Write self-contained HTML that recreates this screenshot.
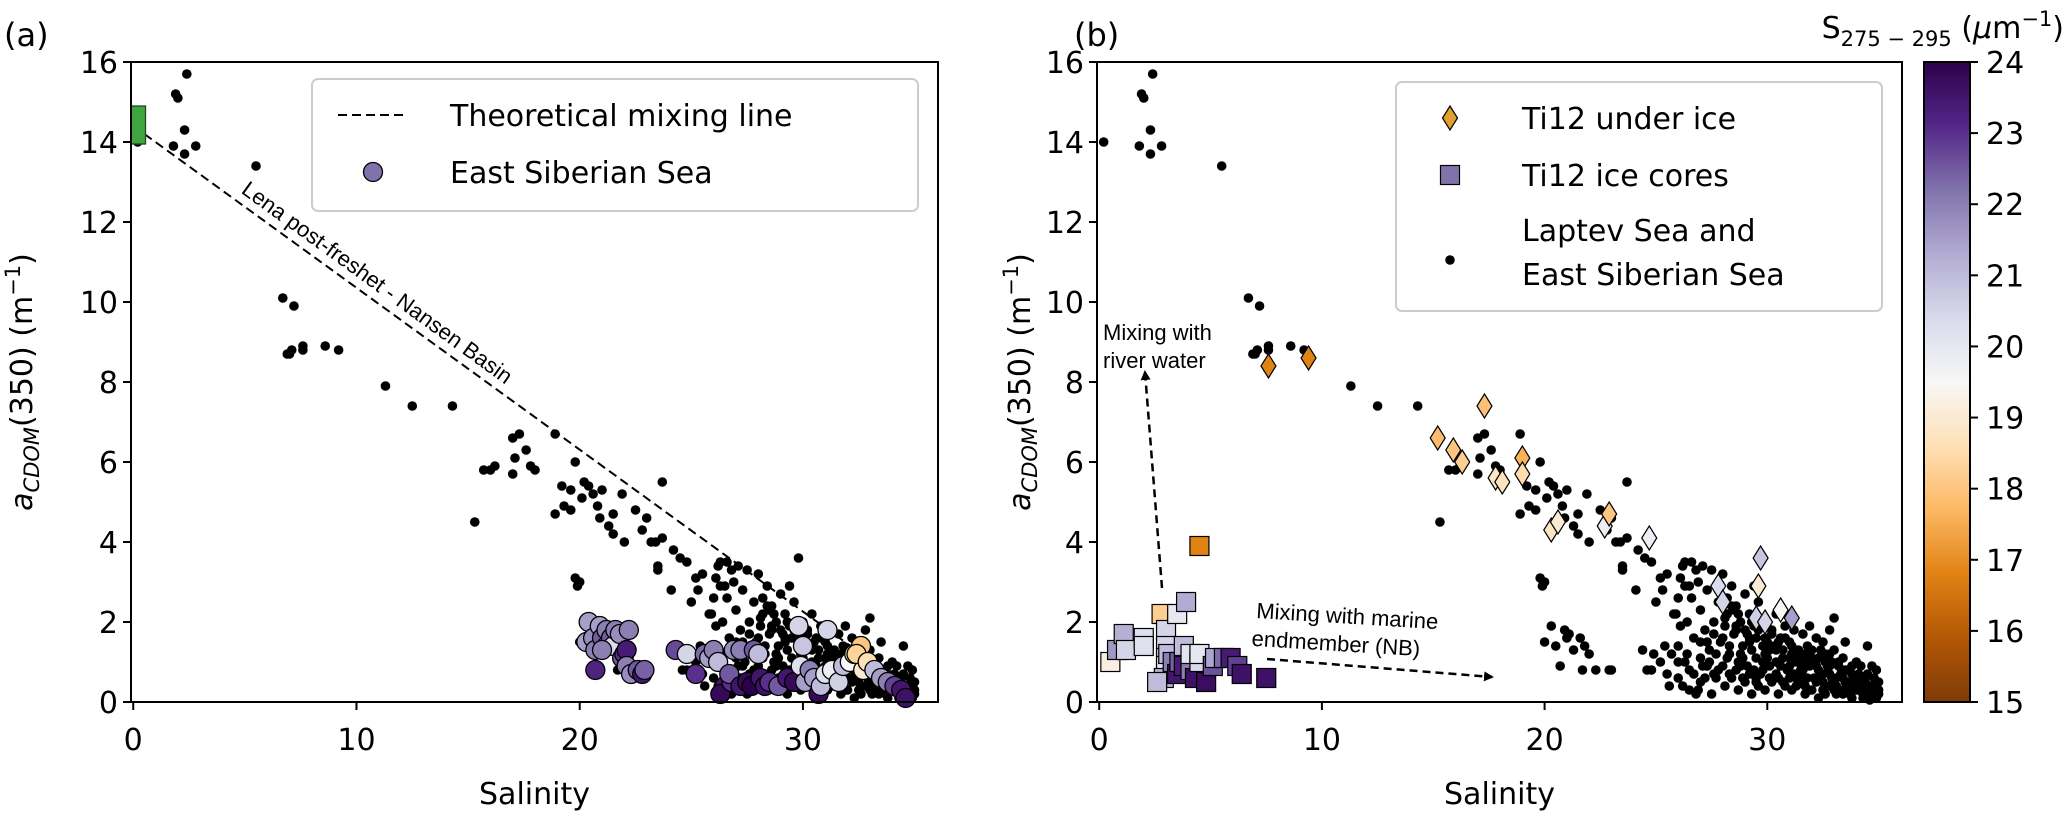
<!DOCTYPE html>
<html><head><meta charset="utf-8"><style>
html,body{margin:0;padding:0;background:#fff;}
svg{display:block;font-family:"DejaVu Sans","Liberation Sans",sans-serif;}
</style></head><body>
<svg id="fig" width="2067" height="814" viewBox="0 0 2067 814" xmlns="http://www.w3.org/2000/svg">
<defs>
<linearGradient id="cbgrad" x1="0" y1="1" x2="0" y2="0">
<stop offset="0" stop-color="#7f3b08"/><stop offset="0.1" stop-color="#b35806"/><stop offset="0.2" stop-color="#e08214"/><stop offset="0.3" stop-color="#fdb863"/><stop offset="0.4" stop-color="#fee0b6"/><stop offset="0.5" stop-color="#f7f7f7"/><stop offset="0.6" stop-color="#d8daeb"/><stop offset="0.7" stop-color="#b2abd2"/><stop offset="0.8" stop-color="#8073ac"/><stop offset="0.9" stop-color="#542788"/><stop offset="1" stop-color="#2d004b"/>
</linearGradient>
<marker id="arr" markerWidth="10" markerHeight="10" refX="8" refY="5" orient="auto" markerUnits="userSpaceOnUse"><path d="M0,0 L10,5 L0,10 z" fill="#000"/></marker>
</defs>
</svg>
<script>
// ---- data ----
const dotSal = [0.2,1.8,1.9,2.0,2.3,2.3,2.4,2.8,5.5,6.7,7.2,6.9,7.0,7.1,7.6,7.6,8.6,9.2,11.3,12.5,14.3,
15.3,15.7,16.0,16.2,17.0,17.1,17.0,17.3,17.6,17.8,18.0,18.9,18.9,19.2,19.3,19.6,19.8,19.6,20.1,20.2,20.4,20.6,20.8,20.9,21.0,21.3,21.5,21.9,21.5,22.0,22.5,22.8,23.0,23.2,23.4,23.5,23.5,23.7,23.7,24.1,24.2,24.5,24.8,25.0,25.2,25.5,25.9,26.0,26.3,26.5,26.8,
19.8,19.9,20.0,
20.0,20.3,20.5,20.7,20.9,21.0,21.3,21.6,21.8,22.0,21.7,22.3,22.9,23.0,21.1,
24.4,24.6,24.9,25.2,25.5,25.7,26.0,25.4,26.3,26.5,26.8,27.0,
26.2,26.6,26.9,27.1,27.3,27.5,27.8,28.0,28.2,28.4,28.6,28.8,29.0,29.2,29.4,29.6,29.8,30.0,30.2,30.4,30.6,30.8,31.0,31.2,31.4,31.6,31.8,32.0,32.2,32.4,32.6,32.8,33.0,33.2,33.4,33.6,33.8,34.0,34.2,34.4,34.6,34.7,34.8,34.9,35.0,34.5,
26.4,26.7,27.0,27.2,27.4,27.6,27.9,28.1,28.3,28.5,28.7,28.9,29.1,29.3,29.5,29.7,29.9,30.1,30.3,30.5,30.7,30.9,31.1,31.3,31.5,31.7,31.9,32.1,32.3,32.5,32.7,32.9,33.1,33.3,33.5,33.7,33.9,34.1,
26.2,26.5,26.9,27.2,27.5,27.8,28.1,28.4,28.7,29.0,29.3,29.6,29.9,30.2,30.5,30.8,31.1,31.4,31.7,32.0,32.3,32.6,33.0,33.4,33.8,34.3,34.6,
24.8,25.6,26.0,26.1,26.3,26.6,27.0,27.3,
25.3,25.8,26.1,28.5,29.1,29.4,30.0,32.8,33.5,34.2,31.9,
28.2,28.6,29.2,29.8,30.4,31.0,31.6,32.2,32.8,33.4,34.0,34.4,34.8,33.0,32.5,31.5,30.5,29.5,28.8,27.6,
27.3,27.7,28.0,28.3,28.6,28.9,29.2,29.5,29.8,30.1,30.4,30.7,31.0,31.3,31.6,31.9,32.2,32.5,32.8,33.1,33.4,33.7,34.0,34.3,34.6,
27.1,27.4,27.7,28.0,28.3,28.6,28.9,29.2,29.5,29.8,30.1,30.4,30.7,31.0,31.3,31.6,31.9,32.2,32.5,32.8,33.1,33.4,33.7,34.0,34.3,34.7,
28.1,28.4,28.7,29.0,29.3,29.6,29.9,30.2,30.5,30.8,31.1,31.4,31.7,32.0,32.3,32.6,32.9,33.2,33.5,33.8,34.1,34.4,
26.0,26.4,26.7,27.0,27.6,28.2,28.8,29.4,30.0,30.6,31.2,31.8,32.4,33.0,33.6,34.2,
34.8,34.9,35.0,34.9,34.7,34.5,35.0];
const dotA = [14.0,13.9,15.2,15.1,13.7,14.3,15.7,13.9,13.4,10.1,9.9,8.7,8.7,8.8,8.9,8.8,8.9,8.8,7.9,7.4,7.4,
4.5,5.8,5.8,5.9,6.6,6.1,5.7,6.7,6.3,5.9,5.8,6.7,4.7,5.4,4.9,5.3,6.0,4.8,5.1,5.5,5.4,5.2,4.9,4.6,5.3,4.4,4.7,5.2,4.2,4.0,4.8,4.3,4.6,4.0,4.0,3.4,3.3,4.1,5.5,2.8,3.8,3.6,3.5,2.5,3.1,3.2,2.2,2.6,3.5,2.9,3.3,
3.1,2.9,3.0,
1.5,1.9,1.4,0.9,1.8,1.6,1.3,1.6,1.4,1.2,0.8,0.8,0.8,0.8,1.7,
1.3,0.8,1.2,1.0,0.7,1.2,0.6,1.4,1.0,0.3,0.2,0.5,
3.4,3.5,3.0,3.4,2.8,3.3,2.5,3.2,2.6,2.9,2.4,2.0,2.7,2.2,1.9,2.5,3.6,2.0,1.8,2.2,1.6,1.9,1.5,1.8,1.2,1.7,1.4,1.1,1.6,1.3,1.0,1.2,2.1,0.9,1.1,0.8,0.7,1.0,0.6,0.5,0.4,0.2,0.3,0.1,0.2,1.4,
2.0,1.6,2.3,1.8,1.3,2.0,1.5,1.9,1.2,1.7,1.0,1.4,0.9,1.3,1.1,0.7,1.2,0.9,1.4,0.6,1.1,0.8,1.2,0.6,1.0,0.4,0.9,0.6,0.8,0.5,0.9,0.6,0.4,0.7,0.5,0.3,0.5,0.3,
0.4,0.8,0.3,0.6,0.2,0.8,0.4,0.6,0.3,0.5,0.2,0.4,0.3,0.5,0.2,0.4,0.3,0.5,0.2,0.3,0.1,0.2,0.3,0.2,0.1,0.1,0.05,
0.8,0.4,1.4,1.9,2.9,2.6,1.1,0.9,
2.8,2.2,3.1,2.3,1.7,2.9,1.5,1.8,1.5,0.9,1.9,
2.2,1.8,1.6,1.4,1.3,1.1,1.0,0.9,0.7,0.6,0.5,0.4,0.2,1.3,1.5,0.8,1.0,0.6,0.9,1.7,
1.5,1.2,1.6,1.4,1.9,1.1,1.5,1.6,1.0,1.3,1.0,1.3,0.9,1.0,0.8,1.1,0.9,0.7,0.9,0.6,0.8,0.5,0.6,0.4,0.3,
0.9,1.0,0.6,0.9,0.7,0.8,0.6,0.7,0.5,0.8,0.6,0.7,0.5,0.6,0.4,0.6,0.3,0.5,0.3,0.4,0.2,0.3,0.2,0.3,0.2,0.1,
2.1,2.4,2.2,1.8,2.0,1.8,1.6,1.7,1.5,1.6,1.4,1.3,1.2,1.3,1.1,1.2,1.0,1.0,0.8,0.9,0.7,0.6,
1.0,1.2,0.7,1.5,0.7,1.1,1.2,0.8,1.1,0.9,0.7,0.6,0.6,0.5,0.4,0.4,
0.6,0.4,0.5,0.8,0.9,0.7,0.3];

const essSal = [20.3,20.4,20.6,20.7,20.7,20.9,21.0,21.2,21.2,21.4,21.5,21.6,21.8,21.9,22.0,22.1,22.1,22.3,22.6,22.8,22.9,21.0,22.2,
24.3,24.8,25.2,25.6,25.8,26.0,26.2,26.5,26.3,26.8,26.7,26.9,27.2,27.5,27.2,27.8,27.7,28.1,28.3,28.5,28.9,29.3,29.6,29.8,30.0,29.9,30.1,30.3,30.5,30.7,30.8,31.0,31.3,31.6,31.8,32.1,32.3,32.6,32.7,32.4,32.9,33.2,33.5,33.8,34.1,34.4,34.6,31.1,28.0];
const essA = [1.5,2.0,1.6,1.3,0.8,1.9,1.6,1.4,1.8,1.6,1.4,1.8,1.7,1.1,1.2,1.3,0.9,0.7,0.8,0.7,0.8,1.3,1.8,
1.3,1.2,0.7,1.2,1.1,1.3,1.0,0.4,0.2,0.5,0.7,1.3,0.4,0.5,1.3,1.3,0.4,0.6,0.4,0.5,0.4,0.6,0.5,1.9,1.4,0.9,0.5,0.8,0.6,0.2,0.4,0.7,0.8,0.5,0.9,1.0,1.2,1.4,0.8,1.2,1.0,0.8,0.6,0.5,0.4,0.3,0.1,1.8,1.2];
const essS = [21.5,21.5,21.8,22,23.2,21.5,22.5,21.3,22,22.5,20.3,22,21.8,22.5,23,23.4,22,21.8,22.5,23.5,22.4,22,22,
22.7,20.5,23,22.3,21.5,22,21,23.5,23.8,23,22.5,21.8,23.5,23.8,22,22.5,24,23.5,23.6,23,22.5,23.5,23.8,20.5,20.8,20.2,21.5,22,21.5,23.8,21,20.2,19.8,20.6,21,19.5,18.5,18,19,18.3,18.6,21,21.5,22,22.8,23.5,23.6,20.5,21];

const iceSal = [7.6,9.4,15.2,15.9,16.3,17.3,17.8,18.1,19.0,19.0,20.3,20.6,22.7,22.9,24.7,27.8,28.0,29.7,29.6,29.5,29.9,30.6,31.1];
const iceA = [8.4,8.6,6.6,6.3,6.0,7.4,5.6,5.5,6.1,5.7,4.3,4.5,4.4,4.7,4.1,2.9,2.5,3.6,2.9,2.1,2.0,2.3,2.1];
const iceS = [16.8,16.8,17.8,18,18.2,17.9,18.8,18.7,17.6,18.5,18.8,19.0,19.8,18.0,19.8,20.3,20.5,20.8,19.0,20.6,20.5,19.5,21.5];

const coreSal = [0.5,0.8,1.1,1.2,2.0,2.0,2.8,3.0,3.0,3.0,3.0,2.9,3.1,3.3,3.5,3.5,3.6,3.8,3.8,3.9,4.1,4.1,4.3,4.5,4.5,4.5,4.8,5.1,5.2,5.6,5.9,6.2,6.4,7.5,2.6];
const coreA = [1.0,1.3,1.7,1.3,1.6,1.4,2.2,1.8,1.4,1.1,0.9,0.6,1.2,1.0,0.7,2.2,1.0,1.4,0.9,2.5,0.8,1.2,0.6,1.0,1.2,3.9,0.5,0.9,1.1,1.1,1.1,0.9,0.7,0.6,0.5];
const coreS = [19.2,21.6,21.2,20.5,20.2,20.2,18.2,20.5,20.5,20.5,20.0,21.2,21,22,23.5,20.0,22.4,21,23.4,21.3,22,20.1,23.6,20.4,20,16.8,23.7,22.6,21.4,22.3,23.4,22.8,23.6,23.6,21];

const yTicks = [0,2,4,6,8,10,12,14,16];
const xTicks = [0,10,20,30];
const cbTicks = [15,16,17,18,19,20,21,22,23,24];
const mixStart = [0.5,14.2];
const mixEnd = [34.6,0.4];

// ---- helpers ----
const NS = "http://www.w3.org/2000/svg";
const svg = document.getElementById('fig');
function el(tag, attrs, parent, txt){
  const e = document.createElementNS(NS, tag);
  for (const k in attrs) e.setAttribute(k, attrs[k]);
  if (txt !== undefined) e.textContent = txt;
  (parent||svg).appendChild(e);
  return e;
}
const PU = ["#7f3b08","#b35806","#e08214","#fdb863","#fee0b6","#f7f7f7","#d8daeb","#b2abd2","#8073ac","#542788","#2d004b"];
function hex(c){return [1,3,5].map(i=>parseInt(c.substr(i,2),16));}
function cmap(v){
  let t = (v-15)/9; t = Math.max(0,Math.min(1,t));
  const p = t*10, i = Math.min(9,Math.floor(p)), f = p-i;
  const a = hex(PU[i]), b = hex(PU[i+1]);
  return 'rgb('+a.map((x,k)=>Math.round(x+(b[k]-x)*f)).join(',')+')';
}
const XMIN=-0.1, XMAX=36.05, YMIN=0, YMAX=16;
const T=62, B=702;
function mkPanel(L,R){
  return {L:L,R:R,x:s=>L+(s-XMIN)/(XMAX-XMIN)*(R-L), y:a=>B-(a-YMIN)/(YMAX-YMIN)*(B-T)};
}
const pa = mkPanel(131,938), pb = mkPanel(1097,1902);

function axes(p, name){
  const g = el('g',{},svg);
  
  
  yTicks.forEach(v=>{
    const yy=p.y(v);
    el('line',{x1:p.L-8,x2:p.L,y1:yy,y2:yy,stroke:'#000','stroke-width':2},g);
    const t=el('text',{x:p.L-13,y:yy+11,'text-anchor':'end','font-size':30},g,String(v));
    
    
  });
  xTicks.forEach(v=>{
    const xx=p.x(v);
    el('line',{x1:xx,x2:xx,y1:B,y2:B+8,stroke:'#000','stroke-width':2},g);
    const t=el('text',{x:xx,y:B+48,'text-anchor':'middle','font-size':30},g,String(v));
    
    
  });
  const xl=el('text',{x:(p.L+p.R)/2,y:B+102,'text-anchor':'middle','font-size':30},g,'Salinity');
  
  
  return g;
}
function frame(p){
  const r=el('rect',{x:p.L,y:T,width:p.R-p.L,height:B-T,fill:'none',stroke:'#000','stroke-width':2});
  
  
}
function ylabel(x){
  const t=el('text',{transform:'translate('+x+',382) rotate(-90)','text-anchor':'middle','font-size':30});
  
  
  el('tspan',{'font-style':'italic'},t,'a');
  el('tspan',{'font-style':'italic','font-size':21,dy:7},t,'CDOM');
  el('tspan',{dy:-7},t,'(350) (m');
  el('tspan',{'font-size':21,dy:-12},t,'−1');
  el('tspan',{dy:12},t,')');
}
function dots(p, name){
  const g=el('g',{});
  
  
  dotSal.forEach((s,i)=>{
    const c=el('circle',{cx:p.x(s),cy:p.y(dotA[i]),r:4.8,fill:'#000'},g);
    
    
  });
}

// ---- panel (a) ----
axes(pa,'panel-a');
ylabel(32);
dots(pa,'panel-a-laptev-points');
const ml=el('line',{x1:pa.x(mixStart[0]),y1:pa.y(mixStart[1]),x2:pa.x(mixEnd[0]),y2:pa.y(mixEnd[1]),stroke:'#000','stroke-width':2,'stroke-dasharray':'9,5'});


{
  const x1=pa.x(mixStart[0]),y1=pa.y(mixStart[1]),x2=pa.x(mixEnd[0]),y2=pa.y(mixEnd[1]);
  const ang=Math.atan2(y2-y1,x2-x1)*180/Math.PI;
  const cs=10.5, cx=pa.x(cs), cy=pa.y(mixStart[1]+(mixEnd[1]-mixStart[1])*(cs-mixStart[0])/(mixEnd[0]-mixStart[0]));
  const t=el('text',{transform:'translate('+cx+','+cy+') rotate('+ang+') translate(0,-9)','text-anchor':'middle','font-size':22,'font-family':'Liberation Sans, sans-serif'},svg,'Lena post-freshet - Nansen Basin');
  
  
}
{
  const g=el('g',{});
  
  
  essSal.forEach((s,i)=>{
    const c=el('circle',{cx:pa.x(s),cy:pa.y(essA[i]),r:9.5,fill:cmap(essS[i]),stroke:'#000','stroke-width':1.3},g);
    
    
  });
}
const gs=el('rect',{x:pa.x(-0.1),y:pa.y(14.9),width:pa.x(0.55)-pa.x(-0.1),height:pa.y(13.95)-pa.y(14.9),fill:'#3fa63f',stroke:'#1a4d1a','stroke-width':1.3});


frame(pa);
{
  const g=el('g',{});
  
  
  el('rect',{x:312,y:79,width:606,height:132,rx:6,fill:'rgba(255,255,255,0.85)',stroke:'#ccc','stroke-width':2},g);
  el('line',{x1:338,x2:408,y1:115,y2:115,stroke:'#000','stroke-width':2,'stroke-dasharray':'9,5'},g);
  el('text',{x:450,y:126,'font-size':30},g,'Theoretical mixing line');
  el('circle',{cx:373,cy:172,r:9.5,fill:'#8073ac',stroke:'#000','stroke-width':1.3},g);
  el('text',{x:450,y:183,'font-size':30},g,'East Siberian Sea');
}
const ta=el('text',{x:4,y:46,'font-size':32},svg,'(a)');



// ---- panel (b) ----
axes(pb,'panel-b');
ylabel(1030);
dots(pb,'panel-b-laptev-points');
{
  const g=el('g',{});
  
  
  coreSal.forEach((s,i)=>{
    const r=el('rect',{x:pb.x(s)-9.5,y:pb.y(coreA[i])-9.5,width:19,height:19,fill:cmap(coreS[i]),stroke:'#000','stroke-width':1.2},g);
    
    
  });
}
{
  const g=el('g',{});
  
  
  iceSal.forEach((s,i)=>{
    const x=pb.x(s), y=pb.y(iceA[i]);
    const d=el('polygon',{points:(x)+','+(y-12)+' '+(x+7.5)+','+y+' '+x+','+(y+12)+' '+(x-7.5)+','+y,fill:cmap(iceS[i]),stroke:'#000','stroke-width':1.2},g);
    
    
  });
}
frame(pb);
{
  const a1=el('line',{x1:1162,y1:588,x2:1145,y2:372,stroke:'#000','stroke-width':2.5,'stroke-dasharray':'8,5','marker-end':'url(#arr)'});
  
  
  const t1=el('text',{x:1103,y:340,'font-size':22,'font-family':'Liberation Sans, sans-serif'},svg);
  
  
  el('tspan',{x:1103,dy:0},t1,'Mixing with');
  el('tspan',{x:1103,dy:28},t1,'river water');
  const a2=el('line',{x1:1267,y1:659,x2:1492,y2:677,stroke:'#000','stroke-width':2.5,'stroke-dasharray':'8,5','marker-end':'url(#arr)'});
  
  
  const t2=el('text',{transform:'translate(1256,618) rotate(3.5)','font-size':22,'font-family':'Liberation Sans, sans-serif'},svg);
  
  
  el('tspan',{x:0,dy:0},t2,'Mixing with marine');
  el('tspan',{x:-3,dy:28},t2,'endmember (NB)');
}
{
  const g=el('g',{});
  
  
  el('rect',{x:1396,y:82,width:486,height:229,rx:6,fill:'rgba(255,255,255,0.85)',stroke:'#ccc','stroke-width':2},g);
  el('polygon',{points:'1450,106 1457.5,118 1450,130 1442.5,118',fill:'#e0a030',stroke:'#000','stroke-width':1.2},g);
  el('text',{x:1522,y:129,'font-size':30},g,'Ti12 under ice');
  el('rect',{x:1440.5,y:165.5,width:19,height:19,fill:'#8073ac',stroke:'#000','stroke-width':1.2},g);
  el('text',{x:1522,y:186,'font-size':30},g,'Ti12 ice cores');
  el('circle',{cx:1450,cy:260,r:4.8,fill:'#000'},g);
  el('text',{x:1522,y:241,'font-size':30},g,'Laptev Sea and');
  el('text',{x:1522,y:285,'font-size':30},g,'East Siberian Sea');
}
const tb=el('text',{x:1074,y:46,'font-size':32},svg,'(b)');



// ---- colorbar ----
{
  const g=el('g',{});
  
  
  const CL=1924, CR=1970;
  el('rect',{x:CL,y:T,width:CR-CL,height:B-T,fill:'url(#cbgrad)',stroke:'#000','stroke-width':2},g);
  cbTicks.forEach(v=>{
    const yy=B-(v-15)/9*(B-T);
    el('line',{x1:CR,x2:CR+8,y1:yy,y2:yy,stroke:'#000','stroke-width':2},g);
    const t=el('text',{x:CR+16,y:yy+11,'font-size':30},g,String(v));
    
    
  });
  const t=el('text',{x:2064,y:38,'text-anchor':'end','font-size':30},g);
  
  
  el('tspan',{},t,'S');
  el('tspan',{'font-size':21,dy:8},t,'275 − 295');
  el('tspan',{dy:-8},t,' (');
  el('tspan',{'font-style':'italic'},t,'μ');
  el('tspan',{},t,'m');
  el('tspan',{'font-size':21,dy:-12},t,'−1');
  el('tspan',{dy:12},t,')');
}
</script>
</body></html>
